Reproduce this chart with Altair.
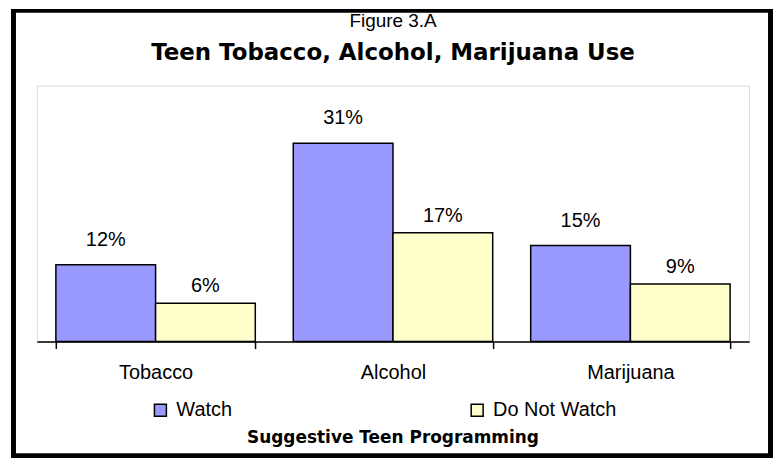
import altair as alt
import pandas as pd

categories = ["Tobacco", "Alcohol", "Marijuana"]
series = ["Watch", "Do Not Watch"]
watch = [12, 31, 15]
not_watch = [6, 17, 9]
colors = ["#9999FF", "#FFFFCC"]
fig_label = "Figure 3.A"
main_title = "Teen Tobacco, Alcohol, Marijuana Use"
x_title = "Suggestive Teen Programming"

rows = []
for c, w, n in zip(categories, watch, not_watch):
    rows.append({"Category": c, "Series": series[0], "Value": w, "Label": f"{w}%"})
    rows.append({"Category": c, "Series": series[1], "Value": n, "Label": f"{n}%"})
df = pd.DataFrame(rows)

W, H = 715, 257
REG = "Liberation Sans"
BOLD = "DejaVu Sans"

x_enc = alt.X(
    "Category:N",
    sort=categories,
    scale=alt.Scale(paddingInner=0.16, paddingOuter=0.08),
    axis=alt.Axis(
        title=None,
        labelFont=REG,
        labelFontSize=20,
        labelColor="black",
        labelPadding=14,
        labelAngle=0,
        domainColor="black",
        domainWidth=1.5,
        tickColor="black",
        tickWidth=1.5,
        tickSize=7,
        tickBand="extent",
    ),
)
y_enc = alt.Y("Value:Q", scale=alt.Scale(domain=[0, 40], nice=False, zero=True), axis=None)
xo = alt.XOffset("Series:N", sort=series)

base = alt.Chart(df)

bars = base.mark_bar(stroke="black", strokeWidth=1.5).encode(
    x=x_enc,
    xOffset=xo,
    y=y_enc,
    color=alt.Color(
        "Series:N",
        sort=series,
        scale=alt.Scale(domain=series, range=colors),
        legend=alt.Legend(
            title=None,
            orient="none",
            direction="horizontal",
            columns=2,
            columnPadding=236,
            legendX=114,
            legendY=316,
            padding=0,
            symbolType="square",
            symbolSize=144,
            symbolStrokeColor="black",
            symbolStrokeWidth=1.5,
            labelFont=REG,
            labelFontSize=20,
            labelColor="black",
            labelOffset=6,
        ),
    ),
)

def bar_labels(s, dy):
    return base.transform_filter(alt.datum.Series == s).mark_text(
        baseline="alphabetic", dy=dy, font=REG, fontSize=20, color="black"
    ).encode(
        x=alt.X("Category:N", sort=categories),
        xOffset=xo,
        y=y_enc,
        text="Label:N",
    )

labels_w = bar_labels(series[0], -19)
labels_n = bar_labels(series[1], -11)

one = alt.Chart(pd.DataFrame({"k": [0]}))

def border(x, x2, y, y2):
    return one.mark_rect(color="black").encode(
        x=alt.value(x), x2=alt.value(x2), y=alt.value(y), y2=alt.value(y2)
    )

b_top = border(-26, 739, -77, -73)
b_bottom = border(-26, 739, 369, 374)
b_left = border(-26, -21, -77, 374)
b_right = border(734, 739, -77, 374)

def text_at(txt, y, font, size, weight):
    return one.mark_text(
        text=txt,
        font=font,
        fontWeight=weight,
        fontSize=size,
        baseline="alphabetic",
        align="center",
        color="black",
    ).encode(x=alt.value(W / 2), y=alt.value(y))

t_fig = text_at(fig_label, -59, REG, 19, "normal")
t_main = text_at(main_title, -26, BOLD, 23, "bold")
t_bottom = text_at(x_title, 359, BOLD, 17, "bold")

chart = (
    alt.layer(b_top, b_bottom, b_left, b_right, bars, labels_w, labels_n, t_fig, t_main, t_bottom)
    .properties(
        width=W,
        height=H,
        padding={"left": 3, "top": 0, "right": 0, "bottom": 0},
    )
    .configure_view(stroke="#333333", strokeWidth=1.2)
    .configure(background="white")
)

chart.save("out.html", embed_options={"renderer": "svg", "actions": False})
